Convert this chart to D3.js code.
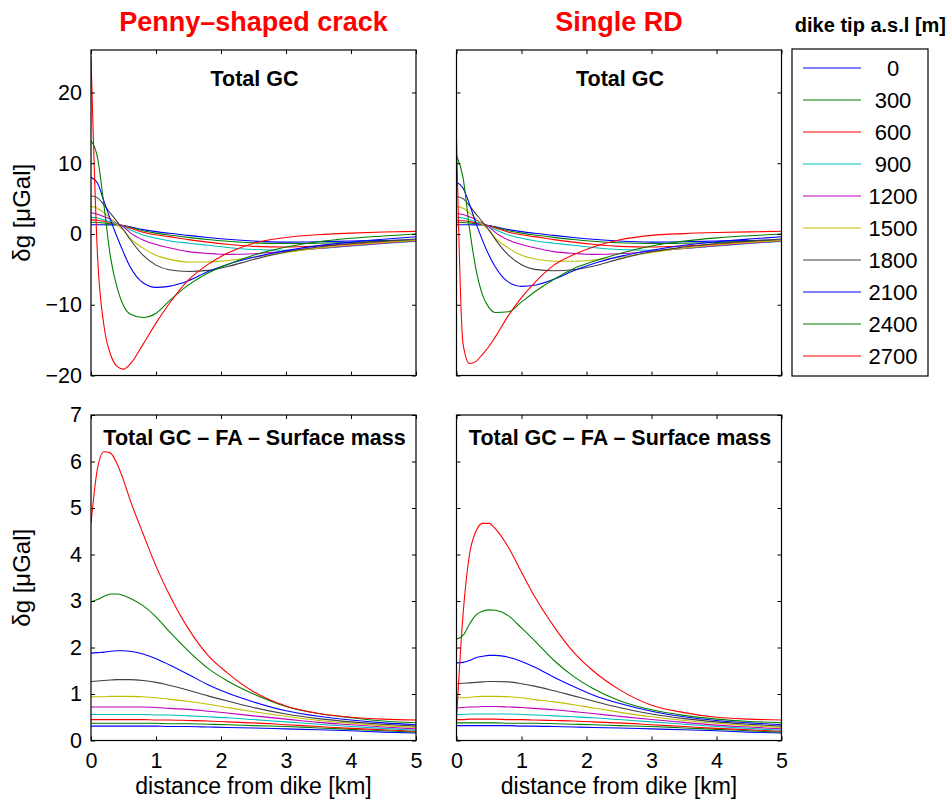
<!DOCTYPE html>
<html>
<head>
<meta charset="utf-8">
<script src="https://cdn.jsdelivr.net/npm/d3@7"></script>
<style>
  body { margin: 0; background: #fff; }
  svg { font-family: "Liberation Sans", Arial, Helvetica, sans-serif; }
</style>
</head>
<body>
<div id="chart"></div>
<script>
// distance from dike [km] at which the curves were read
const distance = [0, 0.1, 0.2, 0.3, 0.4, 0.5, 0.6, 0.8, 1.0, 1.2, 1.5, 1.8, 2.1, 2.5, 3.0, 3.5, 4.0, 4.5, 5.0];

// dike tip a.s.l [m]
const tipHeights = [0, 300, 600, 900, 1200, 1500, 1800, 2100, 2400, 2700];
const lineColors = ["#0000ff", "#008000", "#ff0000", "#00bfbf", "#bf00bf", "#bfbf00", "#404040", "#0000ff", "#008000", "#ff0000"];

// Penny-shaped crack, Total GC (one row per tip height)
const pennyTotal = [
  [1.3, 1.3, 1.3, 1.28, 1.26, 1.18, 1.0, 0.62, 0.33, 0.1, -0.2, -0.5, -0.75, -1.0, -1.15, -1.1, -1.0, -0.92, -0.85],
  [1.65, 1.62, 1.55, 1.43, 1.3, 1.17, 0.95, 0.45, 0.12, -0.14, -0.48, -0.78, -1.02, -1.25, -1.35, -1.3, -1.2, -1.05, -0.92],
  [2.0, 1.95, 1.8, 1.6, 1.38, 1.15, 0.85, 0.25, -0.12, -0.38, -0.8, -1.15, -1.45, -1.75, -1.85, -1.7, -1.45, -1.2, -0.97],
  [2.35, 2.25, 2.0, 1.7, 1.4, 1.05, 0.6, -0.15, -0.6, -0.95, -1.3, -1.6, -1.9, -2.2, -2.3, -2.05, -1.7, -1.35, -1.05],
  [3.0, 2.8, 2.45, 2.05, 1.5, 1.0, 0.2, -0.85, -1.5, -1.95, -2.5, -2.75, -2.88, -2.8, -2.45, -2.05, -1.65, -1.3, -1.0],
  [3.9, 3.65, 3.0, 2.2, 1.3, 0.55, -0.6, -2.0, -3.0, -3.55, -3.95, -3.95, -3.75, -3.3, -2.6, -2.0, -1.55, -1.2, -0.92],
  [5.4, 5.1, 4.1, 2.9, 1.75, 0.6, -0.75, -3.0, -4.4, -5.05, -5.3, -5.15, -4.6, -3.6, -2.55, -1.85, -1.35, -1.0, -0.72],
  [8.0, 7.2, 4.6, 2.0, -0.4, -2.6, -4.6, -6.9, -7.55, -7.4, -6.6, -5.3, -4.3, -3.3, -2.35, -1.65, -1.15, -0.75, -0.4],
  [13.2, 10.8, 4.0, -3.3, -7.5, -10.1, -11.3, -11.8, -11.2, -9.5, -7.2, -5.5, -4.3, -3.0, -1.85, -1.1, -0.6, -0.28, 0.0],
  [25, -3, -13, -17, -18.7, -19.1, -18.4, -15.6, -12.6, -9.9, -6.5, -4.3, -2.7, -1.3, -0.5, -0.1, 0.12, 0.28, 0.37]
];

// Single RD, Total GC
const rdTotal = [
  [1.3, 1.3, 1.3, 1.28, 1.26, 1.18, 1.0, 0.62, 0.33, 0.1, -0.2, -0.5, -0.75, -1.0, -1.15, -1.1, -1.0, -0.92, -0.85],
  [1.65, 1.62, 1.55, 1.43, 1.3, 1.17, 0.95, 0.45, 0.12, -0.14, -0.48, -0.78, -1.02, -1.25, -1.35, -1.3, -1.2, -1.05, -0.92],
  [1.9, 1.86, 1.75, 1.57, 1.36, 1.14, 0.85, 0.25, -0.12, -0.38, -0.8, -1.15, -1.45, -1.75, -1.85, -1.7, -1.45, -1.2, -0.97],
  [2.35, 2.25, 2.0, 1.7, 1.4, 1.05, 0.6, -0.15, -0.6, -0.95, -1.3, -1.6, -1.9, -2.2, -2.3, -2.05, -1.7, -1.35, -1.05],
  [2.9, 2.75, 2.42, 2.02, 1.5, 1.0, 0.2, -0.85, -1.5, -1.95, -2.5, -2.75, -2.88, -2.8, -2.45, -2.05, -1.65, -1.3, -1.0],
  [3.9, 3.62, 2.98, 2.18, 1.3, 0.55, -0.6, -2.0, -3.0, -3.5, -3.85, -3.85, -3.7, -3.3, -2.6, -2.0, -1.55, -1.2, -0.92],
  [5.3, 5.0, 4.0, 2.8, 1.7, 0.55, -0.8, -3.0, -4.35, -5.0, -5.2, -5.05, -4.55, -3.55, -2.5, -1.85, -1.35, -1.0, -0.72],
  [7.3, 6.5, 4.2, 1.5, -0.9, -3.0, -4.7, -6.8, -7.4, -7.25, -6.4, -5.2, -4.2, -3.2, -2.3, -1.6, -1.1, -0.72, -0.4],
  [11.1, 8.0, 0.8, -5.0, -8.6, -10.4, -11.1, -11.0, -9.6, -8.2, -6.4, -4.9, -3.9, -2.8, -1.7, -1.0, -0.55, -0.25, 0.0],
  [13.5, -15.5, -18.3, -18.0, -17.0, -15.9, -14.5, -11.5, -9.0, -6.9, -4.4, -2.95, -1.85, -0.85, -0.2, 0.05, 0.2, 0.3, 0.38]
];

// Penny-shaped crack, Total GC - FA - Surface mass
const pennyResidual = [
  [0.31, 0.31, 0.31, 0.31, 0.31, 0.31, 0.31, 0.31, 0.31, 0.3, 0.3, 0.29, 0.28, 0.27, 0.25, 0.23, 0.21, 0.18, 0.16],
  [0.37, 0.37, 0.37, 0.37, 0.37, 0.37, 0.37, 0.37, 0.37, 0.36, 0.36, 0.35, 0.34, 0.32, 0.3, 0.27, 0.24, 0.21, 0.18],
  [0.45, 0.45, 0.45, 0.45, 0.45, 0.45, 0.45, 0.45, 0.44, 0.44, 0.43, 0.42, 0.4, 0.38, 0.34, 0.3, 0.26, 0.23, 0.2],
  [0.56, 0.56, 0.56, 0.56, 0.56, 0.56, 0.56, 0.56, 0.55, 0.55, 0.53, 0.51, 0.49, 0.45, 0.4, 0.35, 0.3, 0.26, 0.22],
  [0.72, 0.72, 0.72, 0.72, 0.72, 0.72, 0.72, 0.72, 0.71, 0.69, 0.67, 0.63, 0.59, 0.53, 0.46, 0.39, 0.34, 0.29, 0.25],
  [0.94, 0.94, 0.94, 0.95, 0.95, 0.95, 0.95, 0.94, 0.92, 0.89, 0.84, 0.78, 0.71, 0.62, 0.52, 0.43, 0.37, 0.32, 0.28],
  [1.27, 1.28, 1.29, 1.3, 1.31, 1.31, 1.31, 1.29, 1.25, 1.19, 1.08, 0.96, 0.85, 0.71, 0.57, 0.47, 0.4, 0.35, 0.31],
  [1.88, 1.89, 1.9, 1.92, 1.93, 1.93, 1.92, 1.86, 1.76, 1.63, 1.42, 1.2, 1.02, 0.83, 0.64, 0.52, 0.44, 0.38, 0.34],
  [2.98, 3.03, 3.1, 3.15, 3.15, 3.12, 3.06, 2.9, 2.66, 2.35, 1.92, 1.55, 1.28, 1.0, 0.73, 0.58, 0.49, 0.42, 0.38],
  [4.67, 5.85, 6.21, 6.18, 5.95, 5.6, 5.18, 4.45, 3.75, 3.15, 2.4, 1.83, 1.45, 1.05, 0.74, 0.58, 0.5, 0.46, 0.44]
];

// Single RD, Total GC - FA - Surface mass
const rdResidual = [
  [0.32, 0.32, 0.32, 0.32, 0.32, 0.32, 0.32, 0.32, 0.31, 0.31, 0.3, 0.29, 0.28, 0.27, 0.25, 0.23, 0.21, 0.18, 0.16],
  [0.38, 0.38, 0.38, 0.38, 0.38, 0.38, 0.38, 0.37, 0.37, 0.37, 0.36, 0.35, 0.34, 0.32, 0.3, 0.27, 0.24, 0.21, 0.18],
  [0.45, 0.45, 0.46, 0.46, 0.46, 0.46, 0.46, 0.45, 0.45, 0.44, 0.43, 0.42, 0.4, 0.38, 0.34, 0.3, 0.26, 0.23, 0.2],
  [0.56, 0.56, 0.57, 0.57, 0.57, 0.57, 0.57, 0.57, 0.56, 0.55, 0.53, 0.51, 0.49, 0.45, 0.4, 0.35, 0.3, 0.26, 0.22],
  [0.7, 0.71, 0.72, 0.72, 0.73, 0.73, 0.73, 0.72, 0.71, 0.69, 0.66, 0.62, 0.58, 0.52, 0.45, 0.39, 0.33, 0.29, 0.25],
  [0.92, 0.92, 0.93, 0.94, 0.95, 0.95, 0.95, 0.94, 0.92, 0.88, 0.83, 0.77, 0.7, 0.61, 0.51, 0.43, 0.37, 0.32, 0.28],
  [1.22, 1.23, 1.24, 1.25, 1.26, 1.27, 1.27, 1.26, 1.22, 1.17, 1.07, 0.96, 0.85, 0.71, 0.57, 0.47, 0.4, 0.35, 0.31],
  [1.67, 1.68, 1.72, 1.78, 1.81, 1.83, 1.83, 1.79, 1.7, 1.58, 1.36, 1.16, 0.98, 0.8, 0.63, 0.51, 0.43, 0.38, 0.34],
  [2.18, 2.26, 2.5, 2.7, 2.78, 2.81, 2.8, 2.68, 2.42, 2.15, 1.72, 1.38, 1.12, 0.86, 0.66, 0.54, 0.46, 0.41, 0.38],
  [0.45, 2.7, 4.0, 4.5, 4.67, 4.67, 4.55, 4.15, 3.62, 3.1, 2.45, 1.9, 1.5, 1.1, 0.76, 0.6, 0.5, 0.46, 0.44]
];

const totalTicks = [-20, -10, 0, 10, 20];
const residualTicks = [0, 1, 2, 3, 4, 5, 6, 7];
const distanceTicks = [0, 1, 2, 3, 4, 5];

const width = 949, height = 800;
const svg = d3.select("#chart")
  .append("svg")
    .attr("width", width)
    .attr("height", height);

const colX = [91, 456.5], panelW = 325;
const rowY = [50, 415], panelH = 325.5;
const tickLen = 4;

const panels = [
  {col: 0, row: 0, data: pennyTotal, yDomain: [-20, 26], yTicks: totalTicks, label: "Total GC", showY: true, showX: false},
  {col: 1, row: 0, data: rdTotal, yDomain: [-20, 26], yTicks: totalTicks, label: "Total GC", showY: false, showX: false},
  {col: 0, row: 1, data: pennyResidual, yDomain: [0, 7], yTicks: residualTicks, label: "Total GC \u2013 FA \u2013 Surface mass", showY: true, showX: true},
  {col: 1, row: 1, data: rdResidual, yDomain: [0, 7], yTicks: residualTicks, label: "Total GC \u2013 FA \u2013 Surface mass", showY: false, showX: true}
];

panels.forEach((p, pi) => {
  const g = svg.append("g")
    .attr("transform", `translate(${colX[p.col]},${rowY[p.row]})`);

  const x = d3.scaleLinear().domain([0, 5]).range([0, panelW]);
  const y = d3.scaleLinear().domain(p.yDomain).range([panelH, 0]);

  g.append("clipPath")
    .attr("id", "clip" + pi)
    .append("rect")
      .attr("width", panelW)
      .attr("height", panelH);

  const line = d3.line()
    .x((d, i) => x(distance[i]))
    .y(d => y(d))
    .curve(d3.curveMonotoneX);

  g.append("g")
    .attr("clip-path", `url(#clip${pi})`)
    .selectAll("path")
    .data(p.data)
    .join("path")
      .attr("d", line)
      .attr("fill", "none")
      .attr("stroke", (d, i) => lineColors[i])
      .attr("stroke-width", 1.1);

  // MATLAB style: inward ticks on all four sides
  const bottom = g.append("g")
    .attr("transform", `translate(0,${panelH})`)
    .call(d3.axisBottom(x).tickValues(distanceTicks).tickSize(-tickLen).tickPadding(12)
      .tickFormat(p.showX ? d3.format("d") : ""));
  const top = g.append("g")
    .call(d3.axisTop(x).tickValues(distanceTicks).tickSize(-tickLen).tickFormat(""));
  const left = g.append("g")
    .call(d3.axisLeft(y).tickValues(p.yTicks).tickSize(-tickLen).tickPadding(9)
      .tickFormat(p.showY ? d3.format("d") : ""));
  const right = g.append("g")
    .attr("transform", `translate(${panelW},0)`)
    .call(d3.axisRight(y).tickValues(p.yTicks).tickSize(-tickLen).tickFormat(""));

  [bottom, top, left, right].forEach(a => {
    a.select(".domain").remove();
    a.selectAll("line").attr("stroke", "#000");
    a.selectAll("text")
      .attr("fill", "#000")
      .style("font-size", "21.5px")
      .style("font-family", "'Liberation Sans', Arial, sans-serif");
  });

  g.append("rect")
    .attr("width", panelW)
    .attr("height", panelH)
    .attr("fill", "none")
    .attr("stroke", "#000")
    .attr("stroke-width", 1.2);

  g.append("text")
    .attr("x", panelW / 2 + 1)
    .attr("y", p.row === 0 ? 35.7 : 30)
    .attr("text-anchor", "middle")
    .style("font-size", "21.5px")
    .style("font-weight", "bold")
    .text(p.label);

  if (p.showY) {
    g.append("text")
      .attr("transform", `translate(${30 - colX[p.col]},${panelH / 2}) rotate(-90)`)
      .attr("text-anchor", "middle")
      .style("font-size", "24px")
      .text("\u03b4g [\u03bcGal]");
  }
  if (p.showX) {
    g.append("text")
      .attr("x", panelW / 2)
      .attr("y", panelH + 53)
      .attr("text-anchor", "middle")
      .style("font-size", "23px")
      .text("distance from dike [km]");
  }
});

// column titles
svg.append("g")
  .selectAll("text")
  .data(["Penny\u2013shaped crack", "Single RD"])
  .join("text")
    .attr("x", (d, i) => colX[i] + panelW / 2)
    .attr("y", 31)
    .attr("text-anchor", "middle")
    .style("font-size", "27px")
    .style("font-weight", "bold")
    .style("fill", "#ff0000")
    .text(d => d);

// legend
const legend = svg.append("g").attr("transform", "translate(792,49)");
legend.append("rect")
  .attr("width", 136)
  .attr("height", 327)
  .attr("fill", "#fff")
  .attr("stroke", "#000")
  .attr("stroke-width", 1.2);

const rows = legend.selectAll("g.item")
  .data(tipHeights)
  .join("g")
    .attr("class", "item")
    .attr("transform", (d, i) => `translate(0,${19 + i * 32})`);
rows.append("line")
  .attr("x1", 11).attr("x2", 69)
  .attr("stroke", (d, i) => lineColors[i])
  .attr("stroke-width", 1.1);
rows.append("text")
  .attr("x", 101)
  .attr("y", 8)
  .attr("text-anchor", "middle")
  .style("font-size", "22px")
  .text(d => d);

svg.append("text")
  .attr("x", 946)
  .attr("y", 32)
  .attr("text-anchor", "end")
  .style("font-size", "20px")
  .style("font-weight", "bold")
  .text("dike tip a.s.l [m]");
</script>
</body>
</html>
